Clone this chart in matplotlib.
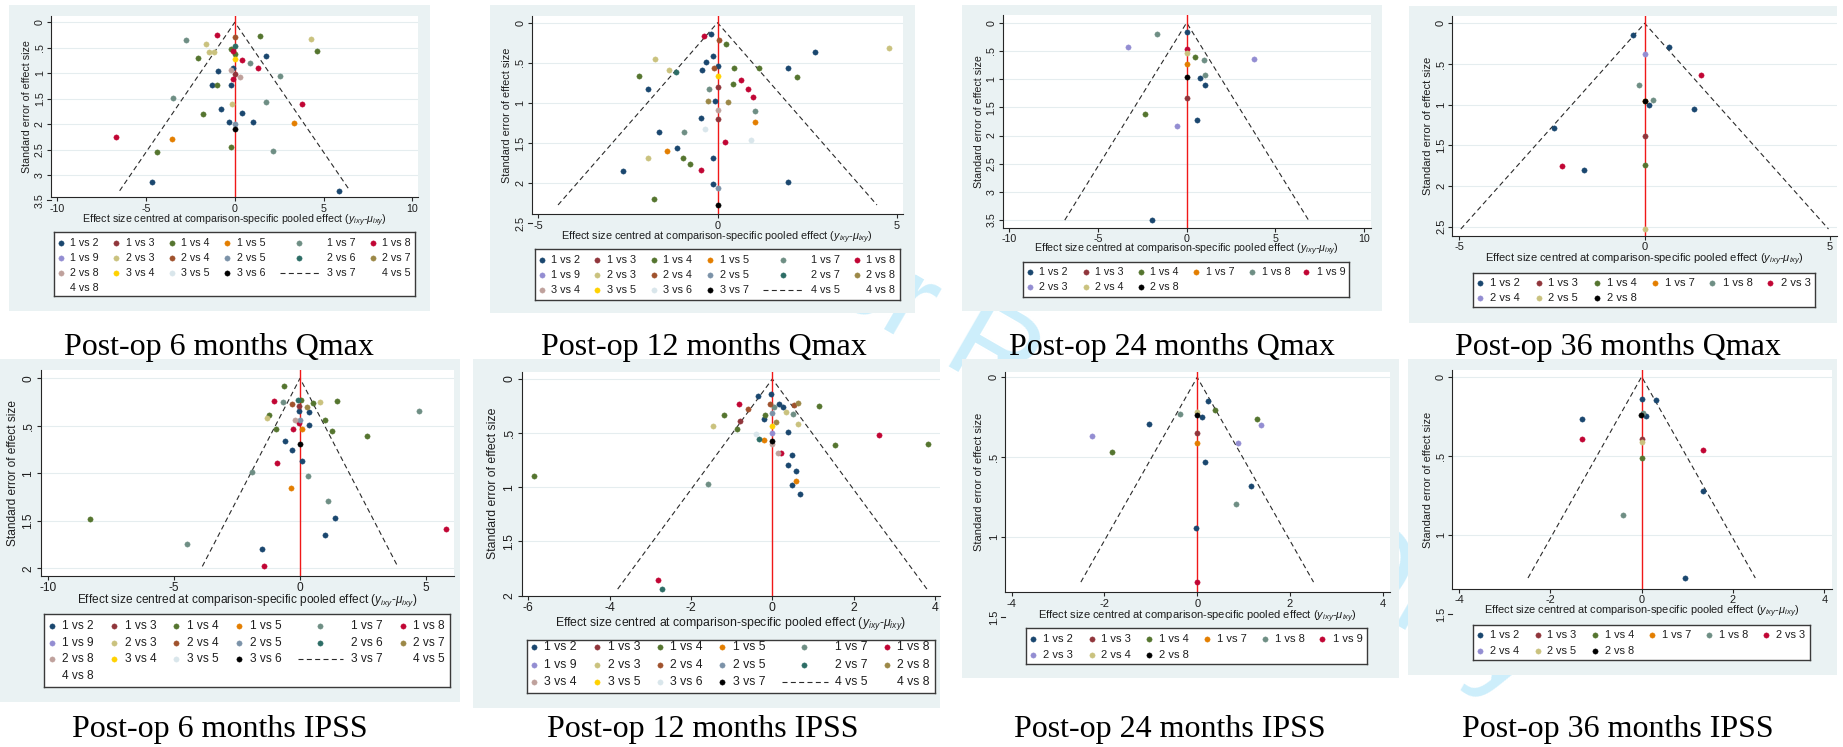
import matplotlib
matplotlib.use("Agg")
import matplotlib.pyplot as plt
import matplotlib.transforms as mtransforms
from matplotlib.patches import Rectangle

plt.rcParams['font.family'] = ['Liberation Sans', 'DejaVu Sans']
plt.rcParams['axes.unicode_minus'] = False
plt.rcParams['mathtext.fontset'] = 'custom'
plt.rcParams['mathtext.rm'] = 'Liberation Sans'
plt.rcParams['mathtext.it'] = 'Liberation Sans:italic'

W, H = 1843, 747
fig = plt.figure(figsize=(W / 100, H / 100), dpi=100)

# ------------------------------------------------------------------ data
# Post-op 6 months Qmax
p1_effect = [-1.01, 0.02, 1.43, -2.76, -1.63, 4.28, 4.62, 0.0, -0.2, -1.43, -1.18, -0.08, 0.0, -2.08,
             0.0, 0.43, 1.78, 0.85, 1.3, -0.09, -0.92, -0.24, 0.02, 0.28, 2.54, -0.09, -1.26, -0.98,
             -0.24, -3.47, 1.73, 3.81, -0.17, -0.77, 0.38, -1.78, -0.34, 1.0, 0.0, 0.0, 3.32, -6.7,
             -3.53, -0.19, 2.14, -4.38, -4.66, 5.86]
p1_se = [0.24, 0.28, 0.26, 0.35, 0.43, 0.32, 0.56, 0.46, 0.52, 0.59, 0.58, 0.56, 0.63, 0.71,
         0.73, 0.75, 0.66, 0.80, 0.90, 0.90, 0.95, 0.94, 1.02, 1.07, 1.05, 1.11, 1.23, 1.23,
         1.24, 1.49, 1.57, 1.60, 1.60, 1.71, 1.79, 1.81, 1.96, 1.96, 2.0, 2.10, 1.98, 2.25,
         2.29, 2.45, 2.53, 2.54, 3.13, 3.31]
p1_comp = ["1 vs 8", "2 vs 4", "1 vs 4", "1 vs 7", "2 vs 3", "2 vs 3", "1 vs 4", "2 vs 6", "1 vs 4",
           "2 vs 3", "2 vs 3", "1 vs 8", "1 vs 4", "1 vs 4", "3 vs 4", "1 vs 8", "1 vs 2", "1 vs 7",
           "1 vs 8", "1 vs 2", "1 vs 2", "2 vs 8", "1 vs 3", "2 vs 8", "1 vs 7", "1 vs 8", "1 vs 2",
           "1 vs 4", "1 vs 2", "1 vs 7", "1 vs 7", "1 vs 8", "2 vs 3", "1 vs 2", "1 vs 2", "1 vs 4",
           "1 vs 2", "1 vs 2", "2 vs 5", "3 vs 6", "1 vs 5", "1 vs 8", "1 vs 5", "1 vs 4", "1 vs 7",
           "1 vs 4", "1 vs 2", "1 vs 2"]

# Post-op 12 months Qmax
p2_effect = [-0.39, -0.19, 0.03, 0.23, 2.73, 4.78, -1.74, -0.13, -0.33, 0.01, -0.09, -0.43, -1.34,
             -1.16, 0.47, 1.17, 1.98, 2.23, -2.18, 0.0, 0.65, 0.42, -1.93, -0.24, 0.01, 0.84, 0.99,
             -0.27, -0.08, 0.29, 0.0, 1.05, -0.45, 0.0, 1.04, -0.36, -1.63, -0.93, 0.94, 0.2, -1.13,
             -1.42, -1.95, -0.97, -0.77, -0.12, -2.63, -0.47, 1.98, -0.12, 0.0, -1.77, 0.0]
p2_se = [0.17, 0.145, 0.21, 0.27, 0.37, 0.32, 0.45, 0.42, 0.49, 0.54, 0.56, 0.59, 0.59,
         0.61, 0.56, 0.57, 0.57, 0.68, 0.66, 0.66, 0.71, 0.76, 0.82, 0.82, 0.80, 0.83, 0.92,
         0.97, 0.97, 0.99, 1.09, 1.10, 1.19, 1.20, 1.24, 1.33, 1.36, 1.36, 1.46, 1.49, 1.56,
         1.60, 1.69, 1.68, 1.76, 1.69, 1.85, 1.84, 1.99, 2.01, 2.06, 2.19, 2.27]
p2_comp = ["1 vs 8", "1 vs 2", "2 vs 4", "1 vs 4", "1 vs 2", "2 vs 3", "2 vs 3", "1 vs 2", "1 vs 2",
           "1 vs 2", "2 vs 4", "1 vs 2", "2 vs 3", "2 vs 7", "1 vs 4", "1 vs 4", "1 vs 2", "1 vs 4",
           "1 vs 4", "3 vs 5", "1 vs 8", "1 vs 4", "1 vs 2", "1 vs 7", "1 vs 3", "1 vs 8", "1 vs 8",
           "2 vs 8", "1 vs 2", "2 vs 8", "3 vs 4", "1 vs 7", "1 vs 2", "1 vs 3", "1 vs 5", "3 vs 6",
           "1 vs 2", "1 vs 7", "3 vs 6", "1 vs 8", "1 vs 2", "1 vs 5", "2 vs 3", "1 vs 4", "1 vs 4",
           "1 vs 2", "1 vs 2", "1 vs 8", "1 vs 2", "1 vs 2", "2 vs 5", "1 vs 4", "3 vs 7"]

# Post-op 24 months Qmax
p3_effect = [0.0, -1.69, -3.32, 0.0, 0.0, 0.47, 0.99, 3.77, 0.0, 1.03, 0.77, 0.0, 1.01, 0.0,
             -2.33, 0.56, -0.53, -1.93]
p3_se = [0.16, 0.20, 0.43, 0.47, 0.54, 0.60, 0.67, 0.65, 0.74, 0.93, 0.98, 0.97, 1.10, 1.34,
         1.61, 1.73, 1.84, 3.50]
p3_comp = ["1 vs 2", "1 vs 8", "2 vs 3", "1 vs 9", "2 vs 4", "1 vs 4", "1 vs 8", "2 vs 3", "1 vs 7",
           "1 vs 8", "1 vs 2", "2 vs 8", "1 vs 2", "1 vs 3", "1 vs 4", "1 vs 2", "2 vs 3", "1 vs 2"]

# Post-op 36 months Qmax
p4_effect = [-0.32, 0.67, 0.0, 1.52, -0.15, 0.0, 0.0, 0.22, 0.13, 1.34, -2.45, 0.0, -2.24, -1.64,
             0.0, 0.0]
p4_se = [0.15, 0.29, 0.38, 0.63, 0.76, 0.96, 0.96, 0.94, 1.0, 1.05, 1.29, 1.39, 1.76, 1.80,
         1.74, 2.53]
p4_comp = ["1 vs 2", "1 vs 2", "2 vs 4", "2 vs 3", "1 vs 8", "1 vs 7", "2 vs 8", "1 vs 8", "1 vs 2",
           "1 vs 2", "1 vs 2", "1 vs 3", "2 vs 3", "1 vs 2", "1 vs 4", "2 vs 5"]

# Post-op 6 months IPSS
p5_effect = [-0.64, -1.03, -0.66, -0.09, 0.04, -0.33, -0.03, 0.53, 0.79, 1.47, 0.26, -0.03, 0.37,
             4.74, -1.23, -1.32, -0.21, -0.01, -0.03, 0.99, -0.95, -0.29, 0.07, 0.37, 1.27, 2.65,
             -0.6, -0.3, 0.0, 0.09, -0.93, -1.89, 0.32, -0.34, 1.13, 1.39, -8.34, 5.8, 0.99, -4.48,
             -1.52, -1.43]
p5_se = [0.077, 0.235, 0.25, 0.23, 0.23, 0.27, 0.29, 0.256, 0.25, 0.24, 0.305, 0.34, 0.35,
         0.344, 0.39, 0.42, 0.44, 0.44, 0.47, 0.44, 0.53, 0.53, 0.53, 0.49, 0.55, 0.61,
         0.66, 0.75, 0.69, 0.87, 0.89, 0.99, 1.03, 1.15, 1.29, 1.47, 1.48, 1.59, 1.65, 1.74,
         1.80, 1.98]
p5_comp = ["1 vs 4", "1 vs 8", "1 vs 7", "2 vs 6", "1 vs 4", "2 vs 4", "1 vs 3", "1 vs 4", "2 vs 3",
           "1 vs 4", "2 vs 7", "1 vs 2", "1 vs 2", "1 vs 7", "1 vs 4", "2 vs 3", "2 vs 8", "2 vs 5",
           "1 vs 8", "1 vs 4", "1 vs 4", "1 vs 8", "1 vs 5", "1 vs 2", "1 vs 4", "1 vs 4", "1 vs 2",
           "1 vs 2", "3 vs 6", "1 vs 2", "1 vs 8", "1 vs 7", "1 vs 7", "1 vs 5", "1 vs 7", "1 vs 2",
           "1 vs 4", "1 vs 8", "1 vs 2", "1 vs 7", "1 vs 2", "1 vs 8"]

# Post-op 12 months IPSS
p6_effect = [-0.04, -0.34, -0.81, -0.06, 0.16, 0.27, 0.04, 0.53, 0.62, 1.14, -0.61, -1.19, 0.52,
             0.34, 0.0, -0.17, -0.21, -0.8, 0.08, -1.45, 0.62, 0.0, -0.87, 0.39, 0.0, -0.39, 2.63,
             -0.32, -0.2, 0.0, 0.0, 1.54, 3.84, 0.15, 0.21, 0.48, 0.39, 0.58, 0.58, 0.48, 0.68,
             -5.86, -1.59, -2.8, -2.72]
p6_se = [0.14, 0.16, 0.23, 0.23, 0.23, 0.255, 0.255, 0.24, 0.225, 0.25, 0.28, 0.33, 0.32,
         0.305, 0.31, 0.33, 0.37, 0.39, 0.40, 0.43, 0.415, 0.43, 0.46, 0.49, 0.50, 0.51, 0.52,
         0.55, 0.56, 0.57, 0.60, 0.61, 0.60, 0.68, 0.68, 0.70, 0.79, 0.85, 0.94, 0.98, 1.06,
         0.90, 0.97, 1.86, 1.94]
p6_comp = ["1 vs 2", "1 vs 2", "1 vs 8", "2 vs 4", "1 vs 2", "1 vs 2", "1 vs 7", "2 vs 4", "2 vs 8",
           "1 vs 4", "2 vs 4", "1 vs 4", "1 vs 7", "2 vs 3", "2 vs 5", "1 vs 4", "1 vs 2", "1 vs 3",
           "2 vs 8", "2 vs 3", "2 vs 3", "3 vs 5", "1 vs 4", "1 vs 2", "1 vs 9", "3 vs 6", "1 vs 8",
           "2 vs 7", "1 vs 5", "3 vs 7", "3 vs 4", "1 vs 4", "1 vs 4", "3 vs 4", "1 vs 8", "1 vs 2",
           "1 vs 2", "1 vs 2", "1 vs 5", "1 vs 2", "1 vs 2", "1 vs 4", "1 vs 7", "1 vs 8", "2 vs 7"]

# Post-op 24 months IPSS
p7_effect = [0.24, 0.38, -0.37, 0.0, 0.0, 0.1, 1.28, -1.04, 1.38, -2.26, 0.0, 0.0, 0.88, -1.83,
             0.17, 1.17, 0.84, -0.03, 0.0]
p7_se = [0.148, 0.204, 0.23, 0.215, 0.235, 0.246, 0.26, 0.29, 0.30, 0.37, 0.35, 0.41, 0.41, 0.47,
         0.53, 0.68, 0.79, 0.94, 1.28]
p7_comp = ["1 vs 2", "1 vs 4", "1 vs 8", "2 vs 4", "2 vs 8", "1 vs 2", "1 vs 4", "1 vs 2", "2 vs 3",
           "2 vs 3", "1 vs 3", "1 vs 7", "2 vs 3", "1 vs 4", "1 vs 2", "1 vs 2", "1 vs 8", "1 vs 2",
           "1 vs 9"]

# Post-op 36 months IPSS
p8_effect = [0.01, 0.32, -1.31, 0.04, -0.02, 0.09, -1.31, 0.0, 0.0, 1.34, 0.0, 1.35, -0.41, 0.95]
p8_se = [0.143, 0.15, 0.27, 0.23, 0.24, 0.25, 0.39, 0.395, 0.41, 0.46, 0.515, 0.72, 0.87, 1.27]
p8_comp = ["1 vs 2", "1 vs 2", "1 vs 2", "1 vs 8", "2 vs 8", "1 vs 2", "2 vs 3", "1 vs 3", "2 vs 5",
           "2 vs 3", "1 vs 4", "1 vs 2", "1 vs 8", "1 vs 2"]

# legend series (order defines colour)
series_a = ["1 vs 2", "1 vs 3", "1 vs 4", "1 vs 5", "1 vs 7", "1 vs 8", "1 vs 9", "2 vs 3", "2 vs 4",
            "2 vs 5", "2 vs 6", "2 vs 7", "2 vs 8", "3 vs 4", "3 vs 5", "3 vs 6"]
extra_a = [("d", "3 vs 7"), ("n", "4 vs 5"), ("n", "4 vs 8")]
series_b = ["1 vs 2", "1 vs 3", "1 vs 4", "1 vs 5", "1 vs 7", "1 vs 8", "1 vs 9", "2 vs 3", "2 vs 4",
            "2 vs 5", "2 vs 7", "2 vs 8", "3 vs 4", "3 vs 5", "3 vs 6", "3 vs 7"]
extra_b = [("d", "4 vs 5"), ("n", "4 vs 8")]
series_c = ["1 vs 2", "1 vs 3", "1 vs 4", "1 vs 7", "1 vs 8", "1 vs 9", "2 vs 3", "2 vs 4", "2 vs 8"]
series_d = ["1 vs 2", "1 vs 3", "1 vs 4", "1 vs 7", "1 vs 8", "2 vs 3", "2 vs 4", "2 vs 5", "2 vs 8"]

captions = ["Post-op 6 months Qmax", "Post-op 12 months Qmax", "Post-op 24 months Qmax",
            "Post-op 36 months Qmax", "Post-op 6 months IPSS", "Post-op 12 months IPSS",
            "Post-op 24 months IPSS", "Post-op 36 months IPSS"]

# ------------------------------------------------------------------ style
S2 = ['#1a476f', '#90353b', '#55752f', '#e37e00', '#6e8e84', '#c10534', '#938dd2', '#cac27e',
      '#a0522d', '#7b92a8', '#2d6d66', '#9c8847', '#bfa19c', '#ffd200', '#d9e6eb']
BG = '#eaf2f3'
AXC = '#262626'
TXT = '#1e1e1e'
MS = 3.8

LAYOUTS = {
    'wide': ([0.0186, 0.171, 0.3255, 0.479, 0.679, 0.883],
             [0.0435, 0.198, 0.351, 0.506, 0.755, 0.908], (0.626, 0.737)),
    'narrow': ([0.021, 0.192, 0.361, 0.531, 0.700, 0.868],
               [0.049, 0.220, 0.390, 0.560, 0.731, 0.900], (0.6, 0.7)),
}

panels = [
    dict(x=p1_effect, se=p1_se, comp=p1_comp, series=series_a, extra=extra_a, layout='wide',
         bg=(9, 5, 430, 311), ax=(51, 16, 418, 197.3), xt=[-10, -5, 0, 5, 10],
         xcal=((-10, 57.3), (10, 412.3)), yt=[0, .5, 1, 1.5, 2, 2.5, 3, 3.5], ycal=(22.3, 50.9),
         ylab_x=27, xlab_y=221, leg=(54.3, 232.3, 415, 296), legrow=(10.4, 15.0), fs=7.7,
         cap=(219, 355)),
    dict(x=p2_effect, se=p2_se, comp=p2_comp, series=series_b, extra=extra_b, layout='wide',
         bg=(490, 5, 915, 313), ax=(531.7, 16, 903, 214.3), xt=[-5, 0, 5],
         xcal=((-5, 538.3), (5, 896.7)), yt=[0, .5, 1, 1.5, 2, 2.5], ycal=(22.7, 80.3),
         ylab_x=507.3, xlab_y=237.7, leg=(535, 249.3, 900, 300), legrow=(10.7, 15.0), fs=7.8,
         cap=(704, 355)),
    dict(x=p3_effect, se=p3_se, comp=p3_comp, series=series_c, extra=[], layout='narrow',
         bg=(962, 5, 1382, 311), ax=(1002.7, 15, 1370.7, 227.7), xt=[-10, -5, 0, 5, 10],
         xcal=((-10, 1009), (10, 1364.3)), yt=[0, .5, 1, 1.5, 2, 2.5, 3, 3.5], ycal=(22.7, 56.4),
         ylab_x=979, xlab_y=250, leg=(1023.3, 261.7, 1349.3, 296.7), legrow=(10.6, 14.4), fs=7.7,
         cap=(1172, 355)),
    dict(x=p4_effect, se=p4_se, comp=p4_comp, series=series_d, extra=[], layout='narrow',
         bg=(1409, 6, 1837, 323), ax=(1452.3, 16, 1836.7, 236), xt=[-5, 0, 5],
         xcal=((-5, 1459.3), (5, 1830)), yt=[0, .5, 1, 1.5, 2, 2.5], ycal=(23.3, 81.3),
         ylab_x=1428.3, xlab_y=260, leg=(1473.3, 273.3, 1815, 306.7), legrow=(9.4, 15.0), fs=8.0,
         cap=(1618, 355)),
    dict(x=p5_effect, se=p5_se, comp=p5_comp, series=series_a, extra=extra_a, layout='wide',
         bg=(0, 359, 460, 702), ax=(40.7, 370, 454, 576), xt=[-10, -5, 0, 5],
         xcal=((-10, 48.3), (0, 300)), yt=[0, .5, 1, 1.5, 2], ycal=(378.3, 95.0),
         ylab_x=13.3, xlab_y=600.7, leg=(44.3, 614, 450, 686.7), legrow=(12.0, 16.7), fs=8.6,
         cap=(220, 737)),
    dict(x=p6_effect, se=p6_se, comp=p6_comp, series=series_b, extra=extra_b, layout='wide',
         bg=(473, 359, 940, 708), ax=(521.7, 371.7, 940, 595.7), xt=[-6, -4, -2, 0, 2, 4],
         xcal=((-6, 528.3), (4, 935)), yt=[0, .5, 1, 1.5, 2], ycal=(379.0, 108.3),
         ylab_x=493.3, xlab_y=623.3, leg=(526.7, 640, 935, 692.7), legrow=(7.3, 17.2), fs=8.85,
         cap=(703, 737)),
    dict(x=p7_effect, se=p7_se, comp=p7_comp, series=series_c, extra=[], layout='narrow',
         bg=(962, 359, 1399, 678), ax=(1005, 371.7, 1390, 592.3), xt=[-4, -2, 0, 2, 4],
         xcal=((-4, 1011.7), (4, 1382.7)), yt=[0, .5, 1, 1.5], ycal=(377.3, 160.0),
         ylab_x=979, xlab_y=616.7, leg=(1026, 628.3, 1367.3, 664), legrow=(11.0, 15.7), fs=8.05,
         cap=(1170, 737)),
    dict(x=p8_effect, se=p8_se, comp=p8_comp, series=series_d, extra=[], layout='narrow',
         bg=(1408, 359, 1837, 675), ax=(1452.3, 370, 1831.7, 589), xt=[-4, -2, 0, 2, 4],
         xcal=((-4, 1459), (4, 1824.3)), yt=[0, .5, 1, 1.5], ycal=(376.7, 158.5),
         ylab_x=1428.3, xlab_y=612.3, leg=(1473.3, 625, 1810, 660), legrow=(10.0, 15.7), fs=7.95,
         cap=(1618, 737)),
]

XLABEL = r"Effect size centred at comparison-specific pooled effect ($y_{ixy}$-$\mu_{ixy}$)"
YLABEL = "Standard error of effect size"


def yfmt(v):
    s = '%g' % v
    return s[1:] if s.startswith('0.') else s


def fx(x):
    return x / W


def fy(y):
    return 1 - y / H


# watermark (kept inside the figure)
fig.text(fx(1030), fy(378), "For Peer Review Only", rotation=-30, ha='center', va='center',
         fontsize=86, color='#cdeefb', zorder=-2, family='Liberation Sans')

for p, cap in zip(panels, captions):
    fs = p['fs']
    x0, y0, x1, y1 = p['bg']
    fig.add_artist(Rectangle((fx(x0), fy(y1)), (x1 - x0) / W, (y1 - y0) / H,
                             transform=fig.transFigure, fc=BG, ec='none', zorder=-1))
    L, T, R, B = p['ax']
    ax = fig.add_axes([fx(L), fy(B), (R - L) / W, (B - T) / H])
    ax.set_facecolor('white')
    (t1, q1), (t2, q2) = p['xcal']
    ppx = (q2 - q1) / (t2 - t1)
    ax.set_xlim(t1 - (q1 - L) / ppx, t1 + (R - q1) / ppx)
    py0, ppy = p['ycal']
    ytop = -(py0 - T) / ppy
    ybot = (B - py0) / ppy
    ax.set_ylim(ybot, ytop)

    for s in ('top', 'right'):
        ax.spines[s].set_visible(False)
    for s in ('left', 'bottom'):
        ax.spines[s].set_color(AXC)
        ax.spines[s].set_linewidth(0.8)
    ax.tick_params(axis='both', direction='out', length=3, width=0.8, color=AXC,
                   labelsize=fs, labelcolor=TXT, pad=1.5)
    ax.set_xticks(p['xt'], ['%g' % v for v in p['xt']])
    inside = [v for v in p['yt'] if v <= ybot + 1e-9]
    outside = [v for v in p['yt'] if v > ybot + 1e-9]
    ax.set_yticks(inside, [yfmt(v) for v in inside])
    for t in ax.get_yticklabels():
        t.set_rotation(90)
        t.set_va('center')
    ax.yaxis.grid(True, color='#e5edef', lw=0.8)
    ax.set_axisbelow(True)
    blend = mtransforms.blended_transform_factory(ax.transAxes, ax.transData)
    tl = 4.17 / (R - L)
    for v in outside:
        ax.plot([0, -tl], [v, v], color=AXC, lw=0.8, transform=blend, clip_on=False)
        ax.annotate(yfmt(v), xy=(0, v), xycoords=blend, xytext=(-4.5, 0),
                    textcoords='offset points', rotation=90, ha='right', va='center',
                    fontsize=fs, color=TXT, annotation_clip=False)

    # funnel and reference line
    semax = max(p['se'])
    ax.plot([-1.96 * semax, 0, 1.96 * semax], [semax, 0, semax], color='#2a2a2a', lw=0.8,
            ls=(0, (4.5, 3)), zorder=2)
    ax.axvline(0, color='#f01818', lw=1.0, zorder=2)

    series = p['series']
    cols = S2[:len(series) - 1] + ['#000000']
    for name, col in zip(series, cols):
        xs = [a for a, c in zip(p['x'], p['comp']) if c == name]
        ys = [b for b, c in zip(p['se'], p['comp']) if c == name]
        if xs:
            ax.plot(xs, ys, 'o', ms=MS, mfc=col, mec=col, mew=0.3, ls='none', zorder=3)

    # axis titles
    fig.text(fx((L + R) / 2), fy(p['xlab_y']), XLABEL, ha='center', va='center',
             fontsize=fs, color=TXT)
    fig.text(fx(p['ylab_x']), fy((T + B) / 2), YLABEL, ha='center', va='center',
             rotation=90, fontsize=fs, color=TXT)

    # legend
    lx0, ly0, lx1, ly1 = p['leg']
    lax = fig.add_axes([fx(lx0), fy(ly1), (lx1 - lx0) / W, (ly1 - ly0) / H])
    lax.set_facecolor('white')
    lax.set_xlim(0, 1)
    lax.set_ylim(ly1 - ly0, 0)
    lax.set_xticks([])
    lax.set_yticks([])
    for s in lax.spines.values():
        s.set_color('#3a3a3a')
        s.set_linewidth(1.0)
    mf, lf, dash = LAYOUTS[p['layout']]
    entries = [('m', n, c) for n, c in zip(series, cols)] + p['extra']
    off, sp = p['legrow']
    for i, e in enumerate(entries):
        r, c = divmod(i, 6)
        y = off + r * sp
        if e[0] == 'm':
            lax.plot([mf[c]], [y], 'o', ms=MS, mfc=e[2], mec=e[2], mew=0.3, ls='none')
        elif e[0] == 'd':
            lax.plot(list(dash), [y, y], color='#2a2a2a', lw=0.8, ls=(0, (4.5, 3)))
        lax.text(lf[c], y, e[1], ha='left', va='center', fontsize=fs, color=TXT)

    # caption
    fig.text(fx(p['cap'][0]), fy(p['cap'][1]), cap, ha='center', va='baseline',
             fontsize=23, family='Liberation Serif', color='black')

fig.savefig('out.png', dpi=100, facecolor='white')
